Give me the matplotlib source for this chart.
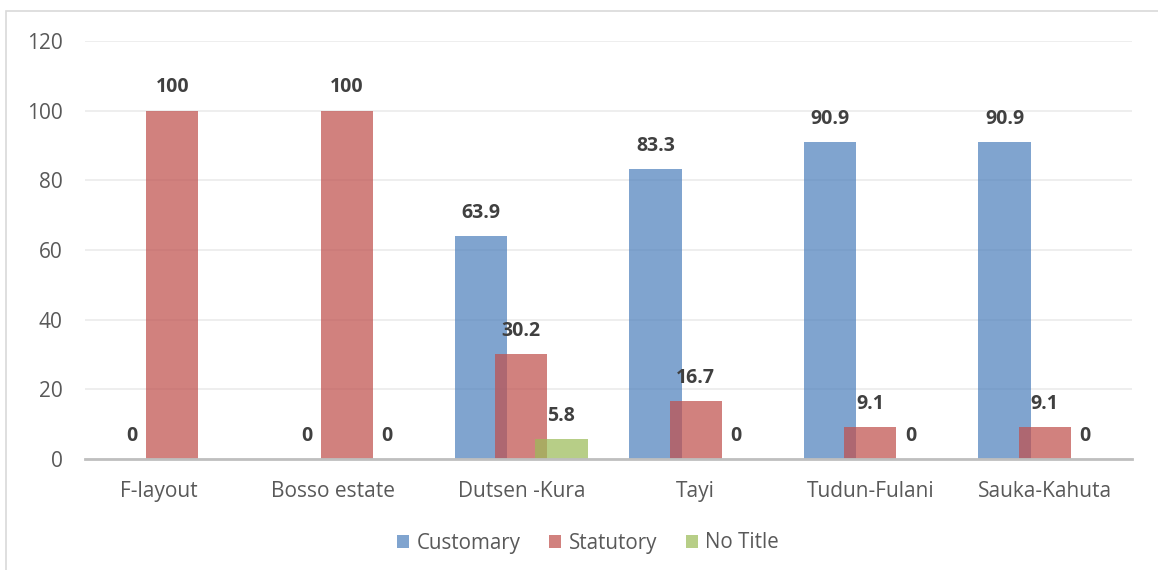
import numpy as np
import matplotlib
matplotlib.use('Agg')
import matplotlib.pyplot as plt
from matplotlib.patches import Rectangle

plt.rcParams['font.family'] = ['Open Sans', 'DejaVu Sans']

# data
places = ['F-layout     ', 'Bosso estate     ', 'Dutsen -Kura', 'Tayi', 'Tudun-Fulani', 'Sauka-Kahuta']
customary = [0, 0, 63.9, 83.3, 90.9, 90.9]
statutory = [100, 100, 30.2, 16.7, 9.1, 9.1]
no_title = [None, 0, 5.8, 0, 0, 0]

series = [('Customary', customary, '#4F81BD'),
          ('Statutory', statutory, '#C0504D'),
          ('No Title', no_title, '#9BBB59')]

fig = plt.figure(figsize=(11.58, 5.70), dpi=100)
ax = fig.add_axes([85/1158, 1-459/570, 1047/1158, 418/570])

# outer chart frame
fig.patches.append(Rectangle((6/1158, -0.1), 1.2, (570-11)/570 + 0.1,
                             transform=fig.transFigure, fill=False,
                             edgecolor='#D9D9D9', lw=1.2))

x = np.arange(len(places))
w = 0.30
step = 0.23
for i, (name, vals, col) in enumerate(series):
    off = (i - 1) * step
    v = np.array([np.nan if a is None else a for a in vals], dtype=float)
    ax.bar(x + off, np.nan_to_num(v), w, color=col, alpha=0.72, label=name, zorder=2)
    for xi, val in zip(x, vals):
        if val is None:
            continue
        ax.annotate(f'{val:g}', (xi + off, val), xytext=(0, 9.5), textcoords='offset points',
                    ha='center', va='bottom', fontsize=14, fontweight='bold', color='#404040')

ax.set_xlim(-0.5, len(places) - 0.5)
ax.set_ylim(0, 120)
ax.set_yticks(range(0, 121, 20))
ax.set_xticks(x)
ax.set_xticklabels(places)
ax.tick_params(axis='both', length=0, labelsize=15, labelcolor='#595959')
ax.tick_params(axis='x', pad=15.5)
ax.tick_params(axis='y', pad=16)
ax.grid(axis='y', color='#EBEBEB', lw=1.2, zorder=0)
for s in ['top', 'right', 'left']:
    ax.spines[s].set_visible(False)
ax.spines['bottom'].set_color('#BFBFBF')
ax.spines['bottom'].set_linewidth(2)
ax.spines['bottom'].set_zorder(3)

leg = fig.legend(loc='center', bbox_to_anchor=(588/1158, 1-543/570), ncol=3, frameon=False,
                 fontsize=14.8, handlelength=0.6, handleheight=0.6, handletextpad=0.35,
                 columnspacing=1.4)
for t in leg.get_texts():
    t.set_color('#595959')

fig.savefig('out.png', dpi=100)
